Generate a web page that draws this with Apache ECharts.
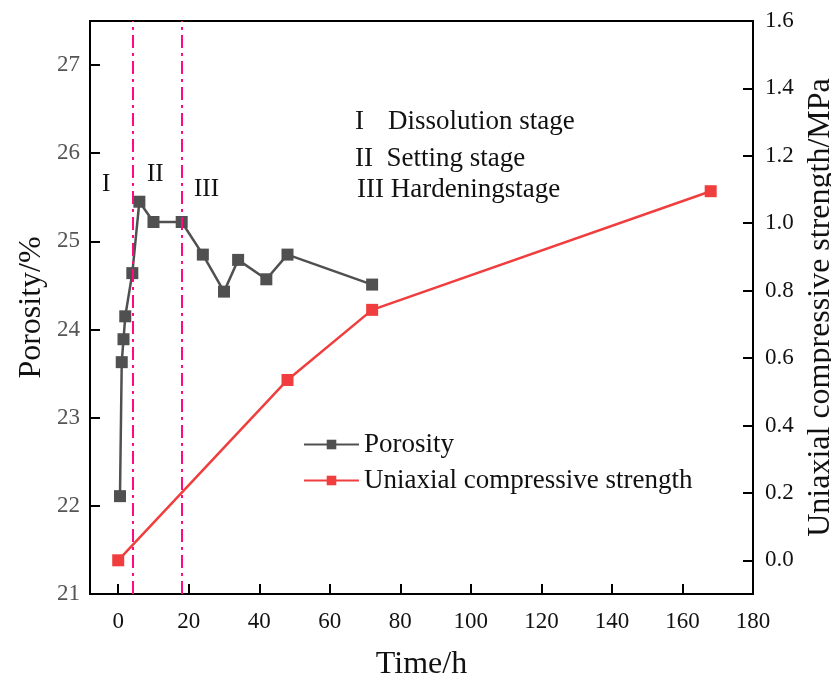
<!DOCTYPE html>
<html>
<head>
<meta charset="utf-8">
<script src="https://cdn.jsdelivr.net/npm/echarts@6/dist/echarts.min.js"></script>
<style>
  html, body { margin: 0; padding: 0; background: #fff; }
  #chart { width: 831px; height: 686px; }
</style>
</head>
<body>
<div id="chart"></div>
<script>
// Curing time (h) and measured porosity (%)
const porosityTime = [0.5, 1, 1.5, 2, 4, 6, 10, 18, 24, 30, 34, 42, 48, 72];
const porosityValues = [22.11, 23.63, 23.89, 24.15, 24.64, 25.45, 25.22, 25.22, 24.85, 24.43, 24.79, 24.57, 24.85, 24.51];

// Curing time (h) and uniaxial compressive strength (MPa)
const strengthTime = [0, 48, 72, 168];
const strengthValues = [0.0, 0.535, 0.743, 1.095];

// Stage boundaries (h)
const stageBounds = [4, 18];

// Axis ticks
const xTicks = [0, 20, 40, 60, 80, 100, 120, 140, 160, 180];
const leftTicks = [21, 22, 23, 24, 25, 26, 27];
const rightTicks = [0.0, 0.2, 0.4, 0.6, 0.8, 1.0, 1.2, 1.4, 1.6];

const FONT = 'Liberation Serif';
const GREY = '#505050';
const RED = '#f03e3e';
const PINK = '#ff0a80';

const chart = echarts.init(document.getElementById('chart'), null, { renderer: 'canvas' });

const pair = (xs, ys) => xs.map((x, i) => [x, ys[i]]);

chart.setOption({
  animation: false,
  backgroundColor: '#fff',
  textStyle: { fontFamily: FONT },
  grid: {
    left: 90, right: 78, top: 21, bottom: 92,
    outerBoundsMode: 'none',
    containLabel: false,
    show: true, borderColor: '#000', borderWidth: 2, backgroundColor: 'transparent'
  },
  legend: {
    orient: 'vertical',
    left: 303, top: 431, padding: 0,
    itemWidth: 55, itemHeight: 12, itemGap: 9,
    textStyle: { fontFamily: FONT, fontSize: 27, color: '#111' },
    data: ['Porosity', 'Uniaxial compressive strength']
  },
  xAxis: {
    type: 'value',
    min: -8, max: 180,
    name: 'Time/h',
    nameLocation: 'middle', nameGap: 55, nameMoveOverlap: false,
    nameTextStyle: { fontFamily: FONT, fontSize: 32, color: '#111' },
    axisLine: { onZero: false, lineStyle: { color: '#000', width: 2 } },
    axisTick: { inside: true, length: 10, lineStyle: { color: '#000', width: 2 }, customValues: xTicks },
    axisLabel: { fontFamily: FONT, fontSize: 23, color: '#111', margin: 16, customValues: xTicks },
    splitLine: { show: false }
  },
  yAxis: [
    {
      type: 'value',
      position: 'left',
      min: 21, max: 27.5,
      name: 'Porosity/%',
      nameLocation: 'middle', nameGap: 42, nameRotate: 90, nameMoveOverlap: false,
      nameTextStyle: { fontFamily: FONT, fontSize: 32, color: '#111' },
      axisLine: { show: true, onZero: false, lineStyle: { color: '#000', width: 2 } },
      axisTick: { inside: true, length: 10, lineStyle: { color: '#000', width: 2 }, customValues: leftTicks.slice(1) },
      axisLabel: { fontFamily: FONT, fontSize: 23, color: '#555', margin: 10, customValues: leftTicks },
      splitLine: { show: false }
    },
    {
      type: 'value',
      position: 'right',
      min: -0.1, max: 1.6,
      name: 'Uniaxial compressive strength/MPa',
      nameLocation: 'middle', nameGap: 52, nameRotate: 90, nameMoveOverlap: false,
      nameTextStyle: { fontFamily: FONT, fontSize: 32, color: '#111' },
      axisLine: { show: true, onZero: false, lineStyle: { color: '#000', width: 2 } },
      axisTick: { inside: true, length: 10, lineStyle: { color: '#000', width: 2 }, customValues: rightTicks },
      axisLabel: {
        fontFamily: FONT, fontSize: 23, color: '#111', margin: 12,
        customValues: rightTicks,
        formatter: v => v.toFixed(1)
      },
      splitLine: { show: false }
    }
  ],
  series: [
    {
      name: 'Porosity',
      type: 'line',
      yAxisIndex: 0,
      data: pair(porosityTime, porosityValues),
      symbol: 'rect', symbolSize: 12,
      itemStyle: { color: GREY },
      lineStyle: { color: GREY, width: 2.5 },
      markLine: {
        silent: true,
        symbol: 'none',
        label: { show: false },
        lineStyle: { color: PINK, width: 2, type: [13, 5, 3, 5] },
        data: stageBounds.map(x => ({ xAxis: x }))
      },
      z: 3
    },
    {
      name: 'Uniaxial compressive strength',
      type: 'line',
      yAxisIndex: 1,
      data: pair(strengthTime, strengthValues),
      symbol: 'rect', symbolSize: 12,
      itemStyle: { color: RED },
      lineStyle: { color: RED, width: 2.5 },
      z: 2
    }
  ],
  graphic: [
    { type: 'text', left: 102, top: 172, style: { text: 'I', font: '25px "Liberation Serif"', fill: '#111' } },
    { type: 'text', left: 147, top: 162, style: { text: 'II', font: '25px "Liberation Serif"', fill: '#111' } },
    { type: 'text', left: 194, top: 177, style: { text: 'III', font: '25px "Liberation Serif"', fill: '#111' } },
    { type: 'text', left: 355, top: 108, style: { text: 'I', font: '27px "Liberation Serif"', fill: '#111' } },
    { type: 'text', left: 388, top: 108, style: { text: 'Dissolution stage', font: '27px "Liberation Serif"', fill: '#111' } },
    { type: 'text', left: 355, top: 145, style: { text: 'II  Setting stage', font: '27px "Liberation Serif"', fill: '#111' } },
    { type: 'text', left: 357, top: 176, style: { text: 'III Hardeningstage', font: '27px "Liberation Serif"', fill: '#111' } }
  ]
});
</script>
</body>
</html>
